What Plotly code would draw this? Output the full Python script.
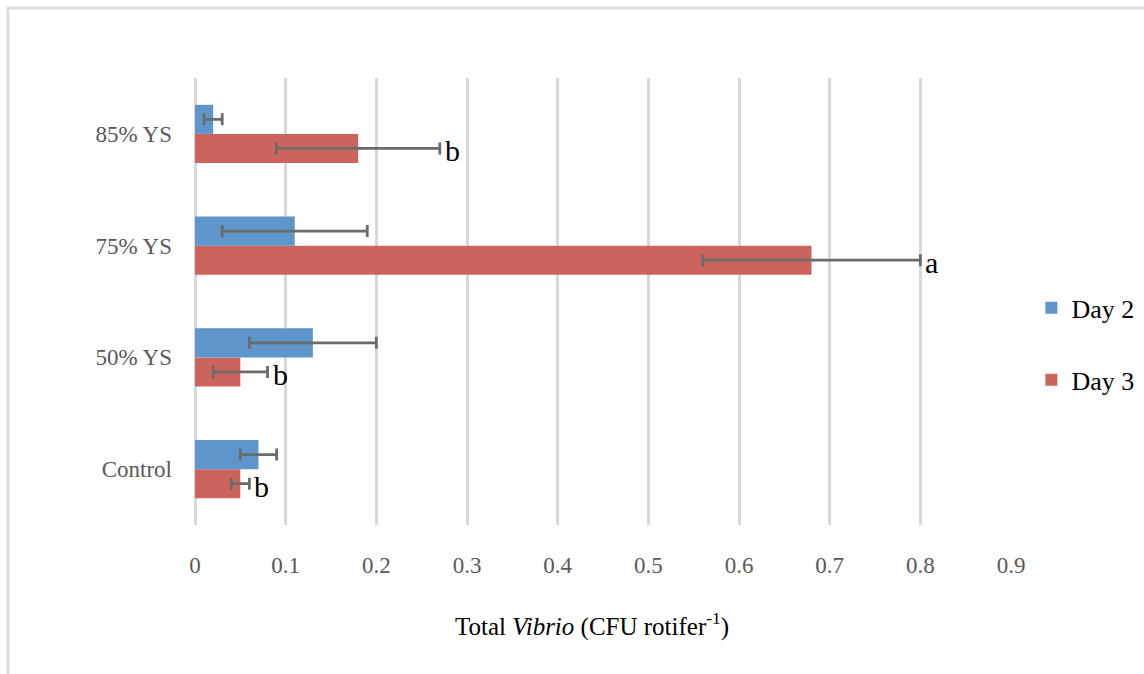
import plotly.graph_objects as go

categories = ["Control", "50% YS", "75% YS", "85% YS"]
day2 = [0.07, 0.13, 0.11, 0.02]
day2_err = [0.02, 0.07, 0.08, 0.01]
day3 = [0.05, 0.05, 0.68, 0.18]
day3_err = [0.01, 0.03, 0.12, 0.09]
letters = ["b", "b", "a", "b"]

blue = "#5E95CA"
red = "#CC645D"
errc = "#6B6B6B"
font_family = "Liberation Serif, DejaVu Serif, serif"

fig = go.Figure()
fig.add_trace(go.Bar(
    y=categories, x=day3, name="Day 3", orientation="h",
    marker=dict(color=red, line=dict(width=0)),
    error_x=dict(type="data", array=day3_err, color=errc, thickness=2.8, width=6),
    legendgroup="d3", legendrank=2,
))
fig.add_trace(go.Bar(
    y=categories, x=day2, name="Day 2", orientation="h",
    marker=dict(color=blue, line=dict(width=0)),
    error_x=dict(type="data", array=day2_err, color=errc, thickness=2.8, width=6),
    legendgroup="d2", legendrank=1,
))

for cat, v, e, L in zip(categories, day3, day3_err, letters):
    fig.add_annotation(x=v + e, y=cat, text=L, showarrow=False, xanchor="left",
                       xshift=3, yshift=-17,
                       font=dict(family=font_family, size=30, color="black"))

fig.add_annotation(x=(592 - 195) / 816, y=(525 - 643) / 447, xref="paper", yref="paper",
                   text="Total <i>Vibrio</i> (CFU rotifer<sup>-1</sup>)",
                   showarrow=False, font=dict(family=font_family, size=25, color="black"))

fig.add_shape(type="rect", xref="paper", yref="paper",
              x0=(8 - 195) / 816, x1=(1160 - 195) / 816,
              y0=(525 - 700) / 447, y1=(525 - 8) / 447,
              line=dict(color="#D9D9D9", width=2.5), fillcolor="rgba(0,0,0,0)", layer="below")

fig.update_layout(
    width=1144, height=674,
    margin=dict(l=195, r=133, t=78, b=149, autoexpand=False),
    paper_bgcolor="white", plot_bgcolor="white",
    barmode="group", bargap=0.48, bargroupgap=0,
    font=dict(family=font_family, size=23, color="#595959"),
    showlegend=True,
    legend=dict(x=1.025, y=0.405, xanchor="left", yanchor="middle",
                font=dict(family=font_family, size=26, color="black"),
                traceorder="grouped", tracegroupgap=35, itemwidth=30),
    xaxis=dict(range=[0, 0.9], dtick=0.1, showgrid=True, gridcolor="#D9D9D9", gridwidth=2.5,
               zeroline=True, zerolinecolor="#D9D9D9", zerolinewidth=2.5,
               showline=False, ticks="", ticklabelstandoff=24,
               tickfont=dict(size=23, color="#595959")),
    yaxis=dict(showgrid=False, showline=False, ticks="", ticklabelstandoff=22,
               tickfont=dict(size=23, color="#595959")),
)

fig.write_html("out.html")
